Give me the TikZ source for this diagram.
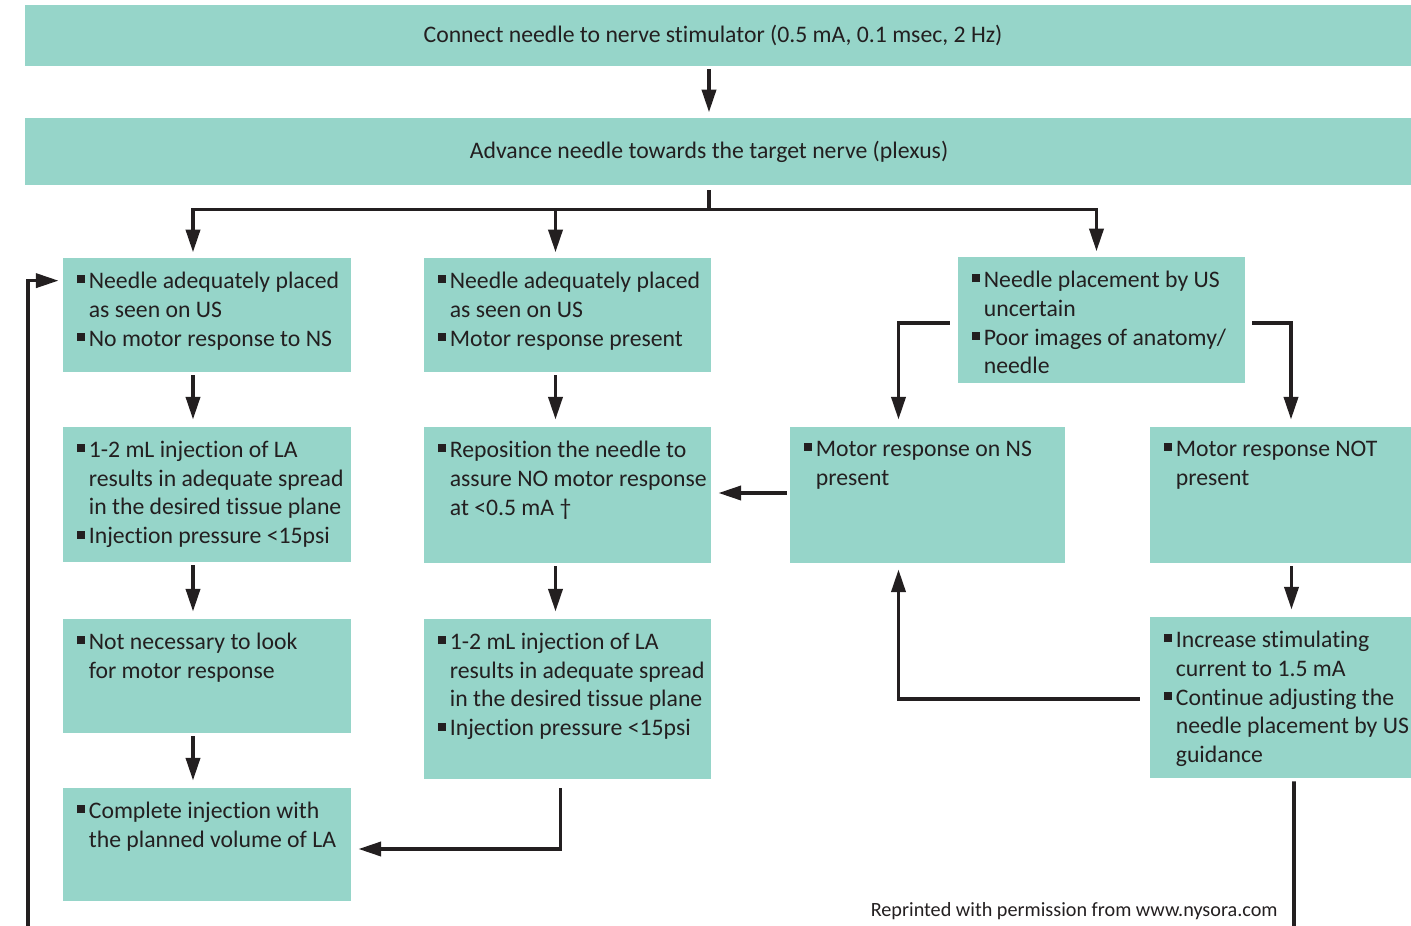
\documentclass[tikz,border=0pt]{standalone}
\usepackage{fontspec}
\setmainfont{Carlito}[Ligatures={NoCommon}]
\usepackage{tikz}
\usetikzlibrary{arrows.meta,fit}
\definecolor{FlowTeal}{RGB}{150,213,201}
\definecolor{FlowInk}{RGB}{35,31,32}
\newcommand\bul{\makebox[0.5em][l]{\rule[0.22em]{0.33em}{0.33em}}}
\newcommand\ind{\hspace*{0.5em}}

\begin{document}
\begin{tikzpicture}[x=0.02cm, y=-0.02cm,
        box/.style={fill=FlowTeal, inner sep=0pt},
    txt/.style={anchor=north west, inner sep=0pt, align=left, text=FlowInk, font=\fontsize{13.5}{16.4}\selectfont},
        ln/.style={draw=FlowInk, line width=2.1pt},
        arr/.style={ln, -{Triangle[length=13pt, width=8pt]}, shorten <=1.7pt, shorten >=3pt}
]
    \useasboundingbox (0,0) rectangle (1411,926);
    \coordinate (mid) at (709,0);
    % top row
    \node[box, fit={(25,5) (1411,66)}] (conn) {};
    \node[box, fit={(25,118) (1411,185)}] (adv) {};
    \node[txt, anchor=center] (connt) at ([shift={(-5,0)}]conn.center) {Connect needle to nerve stimulator (0.5 mA, 0.1 msec, 2 Hz)};
    \node[txt, anchor=center] (advt) at ([shift={(-9,0)}]adv.center) {Advance needle towards the target nerve (plexus)};
    % left column
    \node[box, fit={(63,258) (351,372)}] (b1) {};
    \node[box, fit={(63,427) (351,562)}] (b2) {};
    \node[box, fit={(63,619) (351,733)}] (b3) {};
    \node[box, fit={(63,788) (351,901)}] (b4) {};
    % middle column
    \node[box, fit={(424,258) (711,372)}] (c1) {};
    \node[box, fit={(424,427) (711,563)}] (c2) {};
    \node[box, fit={(424,619) (711,779)}] (c3) {};
    % right part
    \node[box, fit={(958,257) (1245,383)}] (u1) {};
    \node[box, fit={(790,427) (1065,563)}] (ns) {};
    \node[box, fit={(1150,427) (1411,563)}] (np) {};
    \node[box, fit={(1150,617) (1411,778)}] (inc) {};

    \node[txt] (b1t) at ([shift={(14,14)}]b1.north west) {\bul Needle adequately placed\\\ind as seen on US\\\bul No motor response to NS};
    \node[txt] (b2t) at ([shift={(14,14)}]b2.north west) {\bul 1-2 mL injection of LA\\\ind results in adequate spread\\\ind in the desired tissue plane\\\bul Injection pressure <15psi};
    \node[txt] (b3t) at ([shift={(14,14)}]b3.north west) {\bul Not necessary to look\\\ind for motor response};
    \node[txt] (b4t) at ([shift={(14,14)}]b4.north west) {\bul Complete injection with\\\ind the planned volume of LA};
    \node[txt] (c1t) at ([shift={(14,14)}]c1.north west) {\bul Needle adequately placed\\\ind as seen on US\\\bul Motor response present};
    \node[txt] (c2t) at ([shift={(14,14)}]c2.north west) {\bul Reposition the needle to\\\ind assure NO motor response\\\ind at <0.5 mA †};
    \node[txt] (c3t) at ([shift={(14,14)}]c3.north west) {\bul 1-2 mL injection of LA\\\ind results in adequate spread\\\ind in the desired tissue plane\\\bul Injection pressure <15psi};
    \node[txt] (u1t) at ([shift={(14,14)}]u1.north west) {\bul Needle placement by US\\\ind uncertain\\\bul Poor images of anatomy/\\\ind needle};
    \node[txt] (nst) at ([shift={(14,14)}]ns.north west) {\bul Motor response on NS\\\ind present};
    \node[txt] (npt) at ([shift={(14,14)}]np.north west) {\bul Motor response NOT\\\ind present};
    \node[txt] (inct) at ([shift={(14,14)}]inc.north west) {\bul Increase stimulating\\\ind current to 1.5 mA\\\bul Continue adjusting the\\\ind needle placement by US\\\ind guidance};

    \node[anchor=east, inner sep=0pt, text=FlowInk, font=\fontsize{11.5}{13}\selectfont] (credit) at (1278,911) {Reprinted with permission from www.nysora.com};

    % connectors
    \draw[arr] (conn.south -| mid) -- (adv.north -| mid);
    \draw[ln] ([shift={(0,5)}]adv.south -| mid) -- ++(0,19) coordinate (split);
    \draw[arr, shorten <=0pt] (split) -| ([shift={(-14,0)}]b1.north);
    \draw[arr, shorten <=0pt] (split) -| ([shift={(-12,0)}]c1.north);
    \draw[arr, shorten <=0pt] (split) -| ([shift={(-5,0)}]u1.north);
    \foreach \a/\b/\s in {b1/b2/-14, b2/b3/-14, b3/b4/-14, c1/c2/-12, c2/c3/-12, np/inc/11}
        \draw[arr, shorten >=4pt] ([shift={(\s,0)}]\a.south) -- ([shift={(\s,0)}]\b.north);
    \draw[arr, shorten <=0pt, shorten >=0pt] ([shift={(-7,9)}]c3.south) |- ([shift={(7,4.5)}]b4.east);
    \draw[arr, shorten <=0pt, shorten >=0pt] ([shift={(-3,-2)}]ns.west) -- ([shift={(7,-2)}]c2.east);
    \draw[arr, shorten <=0pt, shorten >=0pt] ([shift={(-8,3)}]u1.west) -| ([shift={(-29,-7)}]ns.north);
    \draw[arr, shorten <=0pt, shorten >=0pt] ([shift={(7,3)}]u1.east) -| ([shift={(10.5,-7)}]np.north);
    \draw[arr, shorten <=0pt, shorten >=0pt] ([shift={(-10,1.5)}]inc.west) -| ([shift={(-29,6)}]ns.south);
    \coordinate (incend) at (1294,926);
    \draw[ln] ([shift={(13.5,3)}]inc.south) -- (incend);
    \coordinate (loopend) at (28,926);
    \draw[arr, shorten <=0pt, shorten >=0pt] (loopend) |- ([shift={(-4,23)}]b1.north west);
\end{tikzpicture}
\end{document}
